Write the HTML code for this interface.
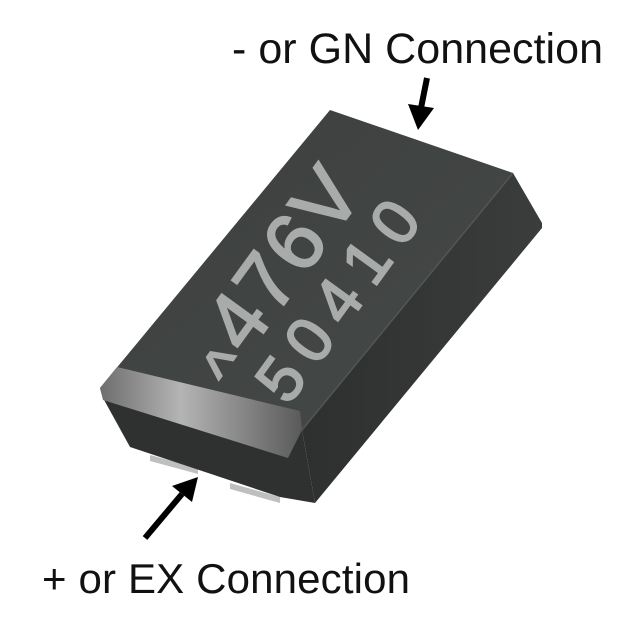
<!DOCTYPE html>
<html><head><style>
html,body{margin:0;padding:0;background:#fff;width:640px;height:640px;overflow:hidden}
svg{display:block}
</style></head><body>
<svg width="640" height="640" viewBox="0 0 640 640" xmlns="http://www.w3.org/2000/svg">
<defs>
<linearGradient id="top" x1="0" y1="0" x2="1" y2="1">
<stop offset="0" stop-color="#3c3f3e"/><stop offset="1" stop-color="#454947"/>
</linearGradient>
<linearGradient id="band" x1="0" y1="0" x2="1" y2="0">
<stop offset="0" stop-color="#6e6e6e"/><stop offset="0.4" stop-color="#b4b4b4"/><stop offset="1" stop-color="#5a5a5a"/>
</linearGradient>
<linearGradient id="side" x1="0" y1="0" x2="1" y2="0">
<stop offset="0" stop-color="#2e302f"/><stop offset="1" stop-color="#3a3d3c"/>
</linearGradient>
</defs>
<text x="232" y="63" font-family="Liberation Sans, sans-serif" font-size="43" textLength="371" fill="#111">- or GN Connection</text>
<text x="42" y="593" font-family="Liberation Sans, sans-serif" font-size="42" textLength="368" fill="#111">+ or EX Connection</text>
<!-- pads -->
<polygon points="150,455 198,468 198,474 150,461" fill="#bfbfbf"/>
<polygon points="230,483 280,497 280,503 230,489" fill="#bfbfbf"/>
<!-- right side -->
<polygon points="302,430 513,173 542,223 542,228 315,503" fill="url(#side)"/>
<!-- front -->
<polygon points="100,388 302,430 315,503 280,497 130,447 103,398" fill="#2f3130"/>
<!-- top -->
<polygon points="330,110 513,173 302,430 100,388" fill="url(#top)"/>
<line x1="513" y1="173" x2="302" y2="430" stroke="#555" stroke-width="1.5"/>
<!-- band -->
<polygon points="117,367 300,411 302,430 288,458 103,400 100,388" fill="url(#band)"/>
<!-- markings -->
<g font-family="Liberation Sans, sans-serif" fill="#a9abaa" stroke="#a9abaa" stroke-width="2">
<text transform="translate(282,258) rotate(-54)" text-anchor="middle" font-size="82" textLength="200" y="29">476V</text>
<text transform="translate(337,300) rotate(-54)" text-anchor="middle" font-size="64" textLength="230" y="23">50410</text>
<text transform="translate(212,357) rotate(-54)" text-anchor="middle" font-size="64" y="40">^</text>
</g>
<!-- arrows -->
<line x1="427" y1="78" x2="421" y2="108" stroke="#000" stroke-width="6"/>
<polygon points="408,104 434,108 418,130" fill="#000"/>
<line x1="145" y1="538" x2="182" y2="494" stroke="#000" stroke-width="6"/>
<polygon points="172,486 192,502 198,477" fill="#000"/>
</svg>
</body></html>
